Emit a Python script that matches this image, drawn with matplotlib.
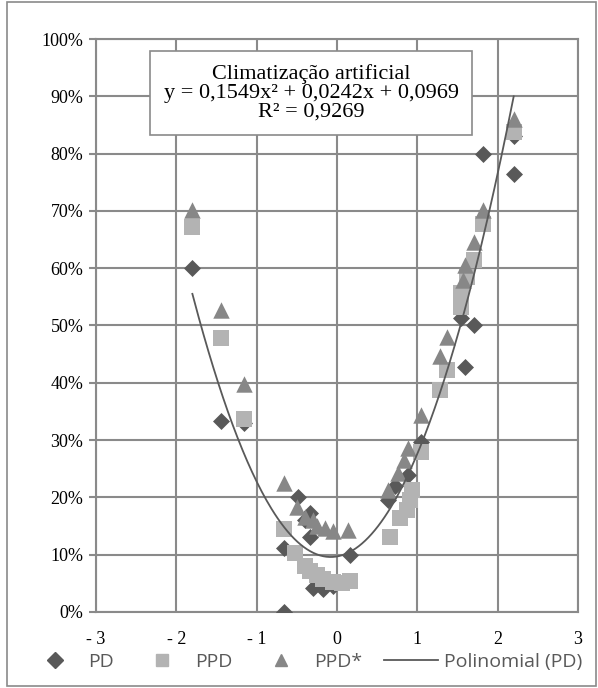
import numpy as np
import matplotlib
matplotlib.use('Agg')
import matplotlib.pyplot as plt
from matplotlib.lines import Line2D
from matplotlib.patches import Rectangle

# PD (losangos)
pd_x = [-1.80, -1.44, -1.16, -0.66, -0.66, -0.48, -0.40, -0.34, -0.33, -0.30, -0.17, -0.05,
        0.16, 0.64, 0.72, 0.89, 1.05, 1.55, 1.59, 1.70, 1.82, 2.20, 2.20]
pd_y = [60.0, 33.3, 33.0, 11.1, 0.0, 20.0, 16.0, 17.2, 13.0, 4.2, 4.0, 4.5,
        10.0, 19.5, 22.0, 23.9, 29.7, 51.3, 42.8, 50.0, 80.0, 76.5, 83.0]

# PPD (quadrados)
ppd_x = [-1.80, -1.44, -1.16, -0.66, -0.52, -0.40, -0.33, -0.25, -0.17, -0.05, 0.06, 0.16,
         0.66, 0.78, 0.87, 0.91, 0.93, 1.05, 1.28, 1.37, 1.55, 1.55, 1.62, 1.70, 1.82, 2.20]
ppd_y = [67.2, 47.9, 33.6, 14.4, 10.3, 8.0, 7.2, 6.5, 5.8, 5.2, 5.1, 5.4,
         13.1, 16.4, 17.8, 19.5, 21.3, 28.0, 38.7, 42.2, 53.3, 55.6, 58.5, 61.4, 67.8, 83.8]

# PPD* (triangulos)
ppds_x = [-1.80, -1.44, -1.16, -0.66, -0.50, -0.40, -0.30, -0.25, -0.15, -0.05, 0.14,
          0.64, 0.76, 0.83, 0.89, 1.05, 1.28, 1.37, 1.57, 1.59, 1.70, 1.82, 2.20]
ppds_y = [70.2, 52.7, 39.8, 22.5, 18.4, 16.5, 16.0, 15.0, 14.6, 14.2, 14.3,
          21.3, 24.2, 26.5, 28.6, 34.4, 44.6, 48.0, 57.9, 60.5, 64.5, 70.2, 86.0]

# linha de tendencia (polinomial de ordem 2)
coef = [0.1549, 0.0242, 0.0969]
trend_range = [-1.8, 2.2]

x_ticks = [-3, -2, -1, 0, 1, 2, 3]
x_labels = ['- 3', '- 2', '- 1', '0', '1', '2', '3']
y_ticks = [0, 10, 20, 30, 40, 50, 60, 70, 80, 90, 100]

serif = 'Liberation Serif'
c_pd = '#595959'
c_ppd = '#b3b3b3'
c_ppds = '#878787'
c_grid = '#8a8a8a'

fig = plt.figure(figsize=(5.98, 6.88), dpi=100)
ax = fig.add_axes([0.1605, 0.1105, 0.806, 0.8328])

ax.scatter(pd_x, pd_y, marker='D', s=75, color=c_pd, zorder=3, linewidths=0)
ax.scatter(ppd_x, ppd_y, marker='s', s=120, color=c_ppd, zorder=3, linewidths=0)
ax.scatter(ppds_x, ppds_y, marker='^', s=140, color=c_ppds, zorder=3, linewidths=0)

xt = np.linspace(trend_range[0], trend_range[1], 200)
ax.plot(xt, np.polyval(coef, xt) * 100, color=c_pd, linewidth=1.3, zorder=4)

ax.set_xlim(-3, 3)
ax.set_ylim(0, 100)
ax.set_xticks(x_ticks)
ax.set_xticklabels(x_labels, fontfamily=serif, fontsize=13)
ax.set_yticks(y_ticks)
ax.set_yticklabels([f'{v}%' for v in y_ticks], fontfamily=serif, fontsize=13)
ax.tick_params(axis='x', length=0, pad=14)
ax.tick_params(axis='y', length=5, color=c_grid, width=1.5, pad=4)
ax.grid(True, color=c_grid, linewidth=1.5)
ax.set_axisbelow(True)
for s in ax.spines.values():
    s.set_color(c_grid)
    s.set_linewidth(1.5)

ax.text(-0.32, 90.6, 'Climatização artificial\ny = 0,1549x² + 0,0242x + 0,0969\nR² = 0,9269',
        ha='center', va='center', fontfamily=serif, fontsize=16, linespacing=1.0,
        bbox=dict(boxstyle='square,pad=0.6', facecolor='white', edgecolor=c_grid, linewidth=1.2),
        zorder=5)

handles = [
    Line2D([], [], marker='D', color=c_pd, linestyle='None', markersize=8),
    Line2D([], [], marker='s', color=c_ppd, linestyle='None', markersize=9),
    Line2D([], [], marker='^', color=c_ppds, linestyle='None', markersize=9),
    Line2D([], [], color=c_pd, linewidth=1.3),
]
leg = fig.legend(handles, ['PD', 'PPD', 'PPD*', 'Polinomial (PD)'], ncol=4,
                 loc='center', bbox_to_anchor=(0.51, 0.038), frameon=False,
                 prop={'family': 'Open Sans', 'size': 14}, handlelength=2.8,
                 columnspacing=1.1, handletextpad=0.3, borderpad=0.1)
for t in leg.get_texts():
    t.set_color('#595959')

fig.patches.append(Rectangle((0.012, 0.003), 0.985, 0.994, transform=fig.transFigure,
                             fill=False, edgecolor=c_grid, linewidth=1.2))

plt.savefig('out.png', dpi=100)
